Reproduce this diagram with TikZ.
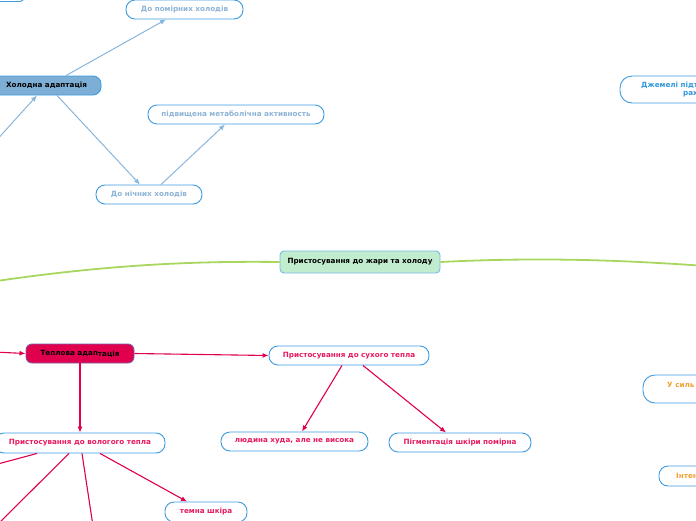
\documentclass[tikz,border=0pt]{standalone}
\usepackage{fontspec}
\setmainfont{DejaVu Sans}
\usetikzlibrary{arrows.meta,calc}
\definecolor{bord}{HTML}{3D9BE0}
\definecolor{coldfill}{HTML}{7DAFD6}
\definecolor{coldtxt}{HTML}{8DB3D6}
\definecolor{coldline}{HTML}{88B6DD}
\definecolor{heat}{HTML}{E0004D}
\definecolor{heattxt}{HTML}{E8195E}
\definecolor{greenline}{HTML}{A8D65E}
\definecolor{greenfill}{HTML}{C2ECCE}
\definecolor{jemtxt}{HTML}{2F97DC}
\definecolor{orangetxt}{HTML}{F2A230}
\tikzset{
  box/.style={draw=bord, line width=0.9pt, fill=white, rectangle, rounded corners=9pt, inner sep=0pt, font=\fontsize{7.2}{8.6}\selectfont\bfseries},
  coldbox/.style={box, text=coldtxt},
  heatbox/.style={box, text=heattxt},
  coldarrow/.style={draw=coldline, line width=1pt, -{Latex[length=6pt,width=5pt]}},
  coldline/.style={draw=coldline, line width=1pt},
  heatarrow/.style={draw=heat, line width=1.1pt, -{Latex[length=6pt,width=5pt]}},
  heatline/.style={draw=heat, line width=1.1pt},
  lbl/.style={inner sep=0pt, anchor=west, font=\fontsize{7.2}{8.6}\selectfont\bfseries},
}
\begin{document}
\begin{tikzpicture}[x=1pt,y=-1pt]
\useasboundingbox (0,0) rectangle (696,520);
\clip (0,0) rectangle (696,520);
% top-left partial node
\node[box, minimum width=44pt, minimum height=19pt, rounded corners=4pt] (tl) at (2,-8) {};
% cold branch
\node[box, fill=coldfill, minimum width=109pt, minimum height=19pt, rounded corners=8pt, text=black] (cold) at (46.5,85.5) {Холодна адаптація};
\node[coldbox, minimum width=117pt, minimum height=19pt] (moder) at (184.5,9.5) {До помірних холодів};
\node[coldbox, minimum width=106pt, minimum height=19pt] (night) at (149,194.5) {До нічних холодів};
\node[coldbox, minimum width=176pt, minimum height=19pt] (metab) at (236,114.5) {підвищена метаболічна активность};
\coordinate (coldin) at (-6,143);
\draw[coldarrow] ([xshift=19.5pt]cold.north) -- ([xshift=-18.5pt]moder.south);
\draw[coldarrow] (coldin) -- ([xshift=-9.5pt]cold.south);
\draw[coldarrow] ([xshift=10.5pt]cold.south) -- ([xshift=-9pt]night.north);
\draw[coldarrow] ([xshift=12pt]night.north) -- ([xshift=-11pt]metab.south);
% center
\node[box, fill=greenfill, draw=bord!70, rounded corners=4pt, minimum width=160pt, minimum height=22pt, text=black] (center) at (360,262) {Пристосування до жари та холоду};
\coordinate (gl) at (-10,282);
\coordinate (gr) at (706,266);
\draw[greenline, line width=1.8pt] (gl) .. controls (110,264) and (200,261) .. (center.west);
\draw[greenline, line width=1.8pt] (center.east) .. controls (540,257) and (620,260) .. (gr);
% heat branch
\node[box, fill=heat, draw=bord!60!heat, rounded corners=6pt, minimum width=108pt, minimum height=19pt, text=black] (heatn) at (80,353.5) {Теплова адап\raisebox{-1.2pt}{тація}};
\node[heatbox, minimum width=160pt, minimum height=19pt] (dry) at (349,355.5) {Пристосування до сухого тепла};
\node[heatbox, minimum width=170pt, minimum height=20pt] (wet) at (80,443) {Пристосування до вологого тепла};
\node[heatbox, minimum width=82pt, minimum height=20pt] (dark) at (206,512) {темна шкіра};
\node[heatbox, minimum width=147pt, minimum height=19pt] (thin) at (294.5,441.5) {людина худа, але не висока};
\node[heatbox, minimum width=142pt, minimum height=19pt] (pigm) at (460,442.5) {Пігментація шкіри помірна};
\coordinate (heatin) at (-6,352);
\coordinate (w1) at (-6,465);
\coordinate (w2) at (-3,525);
\coordinate (w3) at (93,526);
\draw[heatarrow] (heatin) -- (heatn.west);
\draw[heatarrow] (heatn.east) -- (dry.west);
\draw[heatarrow] (heatn.south) -- (wet.north);
\draw[heatline] ([xshift=-43pt]wet.south) -- (w1);
\draw[heatline] ([xshift=-11pt]wet.south) -- (w2);
\draw[heatline] ([xshift=2pt]wet.south) -- (w3);
\draw[heatarrow] ([xshift=20pt]wet.south) -- ([xshift=-19pt]dark.north);
\draw[heatarrow] ([xshift=-7pt]dry.south) -- ([xshift=7.5pt]thin.north);
\draw[heatarrow] ([xshift=14pt]dry.south) -- ([xshift=-14pt]pigm.north);
% right partial nodes
\node[box, minimum width=140pt, minimum height=27pt, rounded corners=12pt] (jem) at (690,89.5) {};
\node[lbl, text=jemtxt] (jem1) at (641,85.5) {Джемелі підтр};
\node[lbl, text=jemtxt] (jem2) at (683,94.5) {рах};
\node[box, minimum width=117pt, minimum height=28pt, rounded corners=12pt] (sil) at (701.5,389) {};
\node[lbl, text=orangetxt] (sil1) at (667,385) {У силь};
\node[box, minimum width=101pt, minimum height=20pt] (inten) at (709.5,476) {};
\node[lbl, text=orangetxt] (inten1) at (676,476) {Інтен};
\end{tikzpicture}
\end{document}
